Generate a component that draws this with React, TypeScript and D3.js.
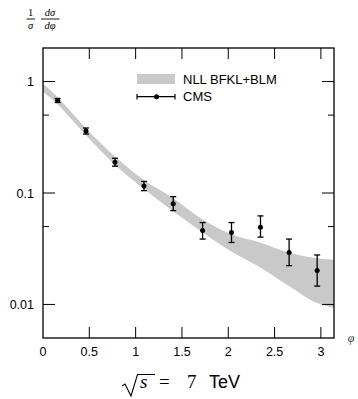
import React, { useEffect, useRef } from "react";
import * as d3 from "d3";

// CMS data points (phi, value, lower edge, upper edge)
const cmsPhi = [0.158, 0.464, 0.777, 1.09, 1.406, 1.723, 2.035, 2.348, 2.657, 2.96];
const cmsValue = [0.676, 0.36, 0.189, 0.1155, 0.08, 0.046, 0.0442, 0.0494, 0.0293, 0.0202];
const cmsLow = [0.649, 0.338, 0.174, 0.105, 0.0695, 0.0386, 0.036, 0.0402, 0.0223, 0.0146];
const cmsHigh = [0.705, 0.383, 0.205, 0.127, 0.0927, 0.0543, 0.0543, 0.0623, 0.0386, 0.0278];

// NLL BFKL+BLM band
const bandPhi = [0, 0.15, 0.3, 0.45, 0.78, 1.09, 1.41, 1.72, 2.03, 2.35, 2.66, 2.96, Math.PI];
const bandUpper = [0.96, 0.734, 0.54, 0.392, 0.212, 0.1306, 0.0893, 0.058, 0.0426, 0.0358, 0.0291, 0.026, 0.0252];
const bandLower = [0.806, 0.637, 0.467, 0.34, 0.178, 0.1086, 0.0684, 0.0444, 0.03, 0.0214, 0.0146, 0.0103, 0.0093];

const xTicks = [0, 0.5, 1, 1.5, 2, 2.5, 3];
const yMajor = [1, 0.1, 0.01];
const yMinor = [0.5, 0.05];
const yLabels = ["1", "0.1", "0.01"];

const left = 43;
const right = 334;
const top = 48;
const bottom = 338;

export default function App() {
  const ref = useRef<SVGSVGElement>(null);

  useEffect(() => {
    const svg = d3.select(ref.current);
    svg.selectAll("*").remove();

    const x = d3.scaleLinear().domain([0, Math.PI]).range([left, right]);
    const y = d3.scaleLog().domain([0.005, 2]).range([bottom, top]);

    const sans = "'Liberation Sans', Arial, sans-serif";
    const serif = "'Liberation Serif', 'DejaVu Serif', serif";

    // band
    const area = d3
      .area<number>()
      .x((d) => x(bandPhi[d]))
      .y0((d) => y(bandLower[d]))
      .y1((d) => y(bandUpper[d]))
      .curve(d3.curveMonotoneX);
    svg
      .append("path")
      .attr("d", area(d3.range(bandPhi.length)))
      .attr("fill", "#c9c9c9");

    // frame
    svg
      .append("rect")
      .attr("x", left)
      .attr("y", top)
      .attr("width", right - left)
      .attr("height", bottom - top)
      .attr("fill", "none")
      .attr("stroke", "#000")
      .attr("stroke-width", 1.3);

    // x ticks
    xTicks.forEach((t) => {
      if (t > 0) {
        svg.append("line").attr("x1", x(t)).attr("x2", x(t)).attr("y1", bottom).attr("y2", bottom - 11).attr("stroke", "#000");
        svg.append("line").attr("x1", x(t)).attr("x2", x(t)).attr("y1", top).attr("y2", top + 11).attr("stroke", "#000");
      }
      svg
        .append("text")
        .attr("x", x(t))
        .attr("y", bottom + 18)
        .attr("text-anchor", "middle")
        .attr("font-family", sans)
        .attr("font-size", 12.5)
        .text(String(t));
    });

    // y ticks
    yMajor.forEach((t, i) => {
      svg.append("line").attr("x1", left).attr("x2", left + 12).attr("y1", y(t)).attr("y2", y(t)).attr("stroke", "#000");
      svg.append("line").attr("x1", right).attr("x2", right - 12).attr("y1", y(t)).attr("y2", y(t)).attr("stroke", "#000");
      svg
        .append("text")
        .attr("x", left - 9)
        .attr("y", y(t) + 4.5)
        .attr("text-anchor", "end")
        .attr("font-family", sans)
        .attr("font-size", 12.5)
        .text(yLabels[i]);
    });
    yMinor.forEach((t) => {
      svg.append("line").attr("x1", left).attr("x2", left + 6).attr("y1", y(t)).attr("y2", y(t)).attr("stroke", "#000");
      svg.append("line").attr("x1", right).attr("x2", right - 6).attr("y1", y(t)).attr("y2", y(t)).attr("stroke", "#000");
    });

    // CMS points
    const pts = svg.append("g").attr("stroke", "#000").attr("stroke-width", 1.3);
    cmsPhi.forEach((p, i) => {
      const cx = x(p);
      pts.append("line").attr("x1", cx).attr("x2", cx).attr("y1", y(cmsLow[i])).attr("y2", y(cmsHigh[i]));
      pts.append("line").attr("x1", cx - 3).attr("x2", cx + 3).attr("y1", y(cmsLow[i])).attr("y2", y(cmsLow[i]));
      pts.append("line").attr("x1", cx - 3).attr("x2", cx + 3).attr("y1", y(cmsHigh[i])).attr("y2", y(cmsHigh[i]));
      pts.append("circle").attr("cx", cx).attr("cy", y(cmsValue[i])).attr("r", 2.5).attr("fill", "#000").attr("stroke", "none");
    });

    // legend
    svg.append("rect").attr("x", 137).attr("y", 74).attr("width", 38).attr("height", 10).attr("fill", "#c9c9c9");
    svg
      .append("text")
      .attr("x", 183)
      .attr("y", 84)
      .attr("font-family", sans)
      .attr("font-size", 13)
      .text("NLL BFKL+BLM");
    const lg = svg.append("g").attr("stroke", "#000").attr("stroke-width", 1.2);
    lg.append("line").attr("x1", 137).attr("x2", 175).attr("y1", 96.7).attr("y2", 96.7);
    lg.append("line").attr("x1", 137).attr("x2", 137).attr("y1", 94).attr("y2", 99.4);
    lg.append("line").attr("x1", 175).attr("x2", 175).attr("y1", 94).attr("y2", 99.4);
    lg.append("circle").attr("cx", 156.5).attr("cy", 96.7).attr("r", 2.5).attr("fill", "#000").attr("stroke", "none");
    svg
      .append("text")
      .attr("x", 183)
      .attr("y", 101)
      .attr("font-family", sans)
      .attr("font-size", 13)
      .text("CMS");

    // y title: 1/sigma dsigma/dphi
    const title = svg.append("g").attr("font-family", serif).attr("font-size", 10.5).attr("text-anchor", "middle");
    title.append("text").attr("x", 30.5).attr("y", 16).text("1");
    title.append("line").attr("x1", 26.5).attr("x2", 35).attr("y1", 19).attr("y2", 19).attr("stroke", "#000").attr("stroke-width", 0.9);
    title.append("text").attr("x", 30.5).attr("y", 28.5).attr("font-style", "italic").text("σ");
    title.append("text").attr("x", 50).attr("y", 16).attr("font-style", "italic").text("dσ");
    title.append("line").attr("x1", 41).attr("x2", 59.5).attr("y1", 19).attr("y2", 19).attr("stroke", "#000").attr("stroke-width", 0.9);
    title.append("text").attr("x", 50).attr("y", 28.5).attr("font-style", "italic").text("dφ");

    // x title
    svg
      .append("text")
      .attr("x", 351)
      .attr("y", 342)
      .attr("text-anchor", "middle")
      .attr("font-family", serif)
      .attr("font-style", "italic")
      .attr("font-size", 12)
      .attr("fill", "#333")
      .text("φ");

    // caption sqrt(s) = 7 TeV
    svg
      .append("path")
      .attr("d", "M122,386 L125,384 L131,396 L137.5,374.5 L155,374.5")
      .attr("fill", "none")
      .attr("stroke", "#000")
      .attr("stroke-width", 1.1);
    svg
      .append("text")
      .attr("x", 140)
      .attr("y", 388)
      .attr("font-family", serif)
      .attr("font-style", "italic")
      .attr("font-size", 19)
      .text("s");
    svg
      .append("text")
      .attr("x", 159)
      .attr("y", 388)
      .attr("font-family", serif)
      .attr("font-size", 19)
      .attr("textLength", 17)
      .text("=");
    svg
      .append("text")
      .attr("x", 187)
      .attr("y", 388)
      .attr("font-family", serif)
      .attr("font-size", 19)
      .text("7");
    svg
      .append("text")
      .attr("x", 209)
      .attr("y", 388)
      .attr("font-family", sans)
      .attr("font-size", 18)
      .text("TeV");
  }, []);

  return (
    <svg
      ref={ref}
      width={358}
      height={399}
      style={{ position: "absolute", left: 0, top: 0, background: "#fff" }}
    />
  );
}
